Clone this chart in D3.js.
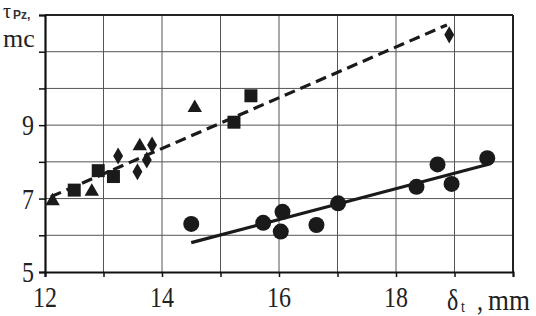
<!DOCTYPE html>
<html><head><meta charset="utf-8">
<script src="https://cdn.jsdelivr.net/npm/d3@7/dist/d3.min.js"></script>
<style>body{margin:0;background:#fff}svg{display:block}</style>
</head><body>
<svg id="c" width="536" height="316"></svg>
<script>
// Data
const circles = [[14.5,6.31],[15.73,6.34],[16.03,6.10],[16.06,6.64],[16.64,6.28],[17.01,6.87],[18.35,7.32],[18.71,7.93],[18.95,7.40],[19.56,8.10]];
const squares = [[12.5,7.23],[12.91,7.76],[13.17,7.60],[15.23,9.08],[15.52,9.80]];
const triangles = [[12.13,6.96],[12.8,7.22],[13.62,8.46],[14.56,9.50]];
const diamonds = [[13.25,8.16],[13.58,7.73],[13.74,8.05],[13.83,8.46],[18.91,11.46]];
const solidLine = [[14.5,5.8],[19.55,7.92]];
const dashedLine = [[12.1,7.05],[18.87,11.73]];
const xTicks = [12,13,14,15,16,17,18,19,20];
const xLabels = [12,14,16,18];
const yTicks = [5,6,7,8,9,10,11,12];
const yLabels = [5,7,9];

const svg = d3.select("#c");
const x = d3.scaleLinear().domain([12,20]).range([45,513]);
const y = d3.scaleLinear().domain([5,12]).range([272,15]);
const font = "'Liberation Serif','Times New Roman',serif";

// grid
svg.append("g").selectAll("line").data(xTicks.slice(1,-1)).join("line")
  .attr("x1",d=>x(d)).attr("x2",d=>x(d)).attr("y1",y(5)).attr("y2",y(12))
  .attr("stroke","#555").attr("stroke-width",1);
svg.append("g").selectAll("line").data(yTicks.slice(1,-1)).join("line")
  .attr("x1",x(12)).attr("x2",x(20)).attr("y1",d=>y(d)).attr("y2",d=>y(d))
  .attr("stroke","#555").attr("stroke-width",1);

// border top/right
svg.append("line").attr("x1",x(12)).attr("x2",x(20)).attr("y1",y(12)).attr("y2",y(12)).attr("stroke","#222").attr("stroke-width",2);
svg.append("line").attr("x1",x(20)).attr("x2",x(20)).attr("y1",y(12)).attr("y2",y(5)).attr("stroke","#222").attr("stroke-width",2);

// axes
const xa = svg.append("g").attr("transform",`translate(0,${y(5)})`)
  .call(d3.axisBottom(x).tickValues(xTicks.slice(0,-1)).tickSize(5).tickFormat(""));
const ya = svg.append("g").attr("transform",`translate(${x(12)},0)`)
  .call(d3.axisLeft(y).tickValues(yTicks.slice(0)).tickSize(6).tickFormat(""));
[xa,ya].forEach(a=>{a.select(".domain").attr("stroke","#111").attr("stroke-width",2.2);
  a.selectAll(".tick line").attr("stroke","#111").attr("stroke-width",1.5);});

// tick labels
svg.append("g").selectAll("text").data(xLabels).join("text")
  .attr("transform",d=>`translate(${x(d)},307) scale(1,1.25)`)
  .attr("text-anchor","middle").attr("font-family",font).attr("font-size",24).attr("fill","#222")
  .text(d=>d);
svg.append("g").selectAll("text").data(yLabels).join("text")
  .attr("transform",d=>`translate(34,${y(d)+10}) scale(1,1.25)`)
  .attr("text-anchor","end").attr("font-family",font).attr("font-size",24).attr("fill","#222")
  .text(d=>d);

// axis titles
svg.append("text").attr("font-family",font).attr("fill","#222").attr("x",3).attr("y",18).attr("font-size",20).text("τ");
svg.append("text").attr("font-family","'Liberation Sans',Arial,sans-serif").attr("font-weight","bold").attr("fill","#333")
  .attr("x",13).attr("y",19).attr("font-size",12).text("Pz,");
svg.append("text").attr("font-family",font).attr("fill","#222").attr("x",3).attr("y",47).attr("font-size",26).text("mc");
const xt = svg.append("g").attr("font-family",font).attr("fill","#222");
xt.append("text").attr("transform","translate(447,310) scale(1,1.2)").attr("font-size",24).text("δ");
xt.append("text").attr("transform","translate(461,312) scale(1,1.2)").attr("font-size",14).text("t");
xt.append("text").attr("transform","translate(477,310) scale(1,1.2)").attr("font-size",24).text(",");
xt.append("text").attr("transform","translate(488,310) scale(1,1.1)").attr("font-size",27).text("mm");

// lines
const line = d3.line().x(d=>x(d[0])).y(d=>y(d[1]));
svg.append("path").attr("d",line(solidLine)).attr("stroke","#1a1a1a").attr("stroke-width",3.2).attr("fill","none");
svg.append("path").attr("d",line(dashedLine)).attr("stroke","#1a1a1a").attr("stroke-width",3.2).attr("fill","none").attr("stroke-dasharray","11,6");

// markers
const col = "#1a1a1a";
svg.append("g").selectAll("circle").data(circles).join("circle")
  .attr("cx",d=>x(d[0])).attr("cy",d=>y(d[1])).attr("r",8).attr("fill",col);
svg.append("g").selectAll("path").data(squares).join("path")
  .attr("transform",d=>`translate(${x(d[0])},${y(d[1])})`).attr("d",d3.symbol(d3.symbolSquare,169)()).attr("fill",col);
svg.append("g").selectAll("path").data(triangles).join("path")
  .attr("transform",d=>`translate(${x(d[0])},${y(d[1])+1})`).attr("d",d3.symbol(d3.symbolTriangle,90)()).attr("fill",col);
svg.append("g").selectAll("path").data(diamonds).join("path")
  .attr("transform",d=>`translate(${x(d[0])},${y(d[1])})`).attr("d",d3.symbol(d3.symbolDiamond,85)()).attr("fill",col);
</script>
</body></html>
